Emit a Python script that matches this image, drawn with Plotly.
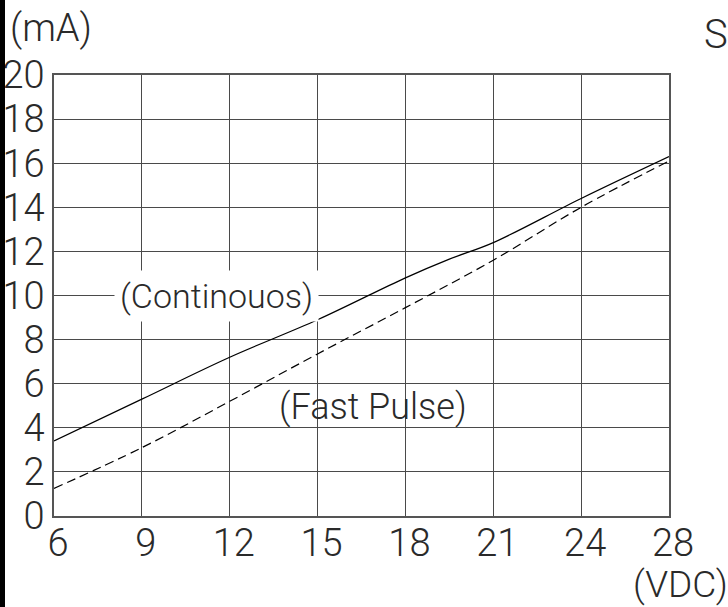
import plotly.graph_objects as go

# ---- data ----
x_ticks_vdc = [6, 9, 12, 15, 18, 21, 24, 28]
y_ticks_ma = [0, 2, 4, 6, 8, 10, 12, 14, 16, 18, 20]

cont_vdc = [6, 9, 12, 15, 18, 19.5, 21, 24, 28]
cont_ma = [3.4, 5.3, 7.2, 8.9, 10.8, 11.65, 12.4, 14.4, 16.3]

pulse_vdc = [6, 9, 12, 15, 18, 21, 24, 28]
pulse_ma = [1.25, 3.1, 5.2, 7.35, 9.45, 11.6, 14.0, 16.1]


# x axis is drawn with equally spaced grid columns (24->28 same width as 3V steps)
def xpos(v):
    return (v - 6) / 3 if v <= 24 else 6 + (v - 24) / 4


FONT = "Roboto, DejaVu Sans Condensed, sans-serif"
WEIGHT = 300
TXT = "#2a2a2a"
GRID = "#4a4a4a"


def f(size):
    return dict(family=FONT, size=size, color=TXT, weight=WEIGHT)


fig = go.Figure()
fig.add_trace(go.Scatter(x=[xpos(v) for v in cont_vdc], y=cont_ma, mode="lines",
                         line=dict(color="black", width=1.2), line_shape="spline",
                         showlegend=False, hoverinfo="skip"))
fig.add_trace(go.Scatter(x=[xpos(v) for v in pulse_vdc], y=pulse_ma, mode="lines",
                         line=dict(color="black", width=1.2, dash="9px,5px"), line_shape="spline",
                         showlegend=False, hoverinfo="skip"))

L, R, T, B = 54, 59, 75, 91
W, H = 728, 607
pw, ph = W - L - R, H - T - B


def px(xp):
    return (xp - L) / pw


def py(yp):
    return (T + ph - yp) / ph


fig.update_layout(
    width=W, height=H,
    margin=dict(l=L, r=R, t=T, b=B, autoexpand=False),
    paper_bgcolor="white", plot_bgcolor="white",
    font=f(38),
    xaxis=dict(range=[0, 7], tickvals=[xpos(v) for v in x_ticks_vdc],
               ticktext=[str(v) for v in x_ticks_vdc], automargin=False,
               showgrid=True, gridcolor=GRID, gridwidth=1.3, zeroline=False,
               showline=True, mirror=True, linecolor="#555555", linewidth=1.5,
               ticks="", ticklabelstandoff=-7, ticklabelshift=4,
               tickfont=f(38)),
    yaxis=dict(range=[0, 20], tickvals=y_ticks_ma, automargin=False,
               showgrid=True, gridcolor=GRID, gridwidth=1.3, zeroline=False,
               showline=True, mirror=True, linecolor="#555555", linewidth=1.5,
               ticks="", ticklabelstandoff=0,
               tickfont=f(38)),
    annotations=[
        dict(x=xpos(11.55), y=10.0, xref="x", yref="y", text="(Continouos)", showarrow=False,
             xanchor="center", yanchor="middle",
             font=f(34), bgcolor="white", borderpad=5),
        dict(x=xpos(16.9), y=4.95, xref="x", yref="y", text="(Fast Pulse)", showarrow=False,
             xanchor="center", yanchor="middle", font=f(36)),
        dict(x=px(51), y=py(28), xref="paper", yref="paper", text="(mA)",
             xanchor="center", yanchor="middle", showarrow=False, font=f(38)),
        dict(x=px(680), y=py(584), xref="paper", yref="paper", text="(VDC)",
             xanchor="center", yanchor="middle", showarrow=False, font=f(37)),
        dict(x=px(716), y=py(34), xref="paper", yref="paper", text="S",
             xanchor="center", yanchor="middle", showarrow=False, font=f(40)),
    ],
    shapes=[
        dict(type="rect", xref="paper", yref="paper",
             x0=px(0), x1=px(5), y0=py(H), y1=py(0),
             fillcolor="black", line=dict(width=0), layer="above"),
    ],
)

fig.write_html("out.html", config={"displayModeBar": False},
               post_script="document.body.style.margin='0';document.body.style.overflow='hidden';")
